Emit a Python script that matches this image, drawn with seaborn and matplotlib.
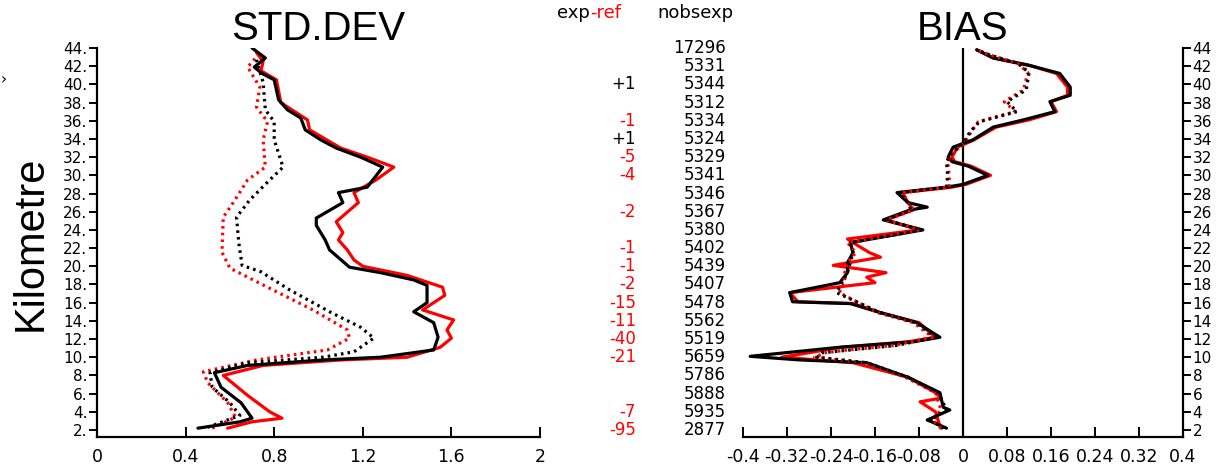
import matplotlib
matplotlib.use("Agg")
import matplotlib.pyplot as plt
import matplotlib.transforms as mtransforms
import seaborn as sns
import numpy as np

# ---------------- data ----------------
# STD.DEV panel
std_exp_km  = [2.2, 2.9, 3.3, 5.0, 6.7, 8.3, 9.1, 9.7, 10.0, 10.8, 12.2, 13.8, 15.0, 16.0, 17.9, 18.5, 19.3, 19.9,
               21.8, 22.9, 24.5, 25.3, 27.0, 28.1, 28.7, 30.9, 32.0, 33.0, 33.9, 35.0, 36.3, 37.2, 38.3, 40.5,
               41.2, 41.9, 42.9, 44.0]
std_exp_val = [0.456, 0.645, 0.70, 0.65, 0.56, 0.53, 0.68, 1.02, 1.28, 1.52, 1.54, 1.52, 1.43, 1.49, 1.49, 1.43, 1.28, 1.14,
               1.05, 1.03, 0.99, 0.99, 1.11, 1.09, 1.22, 1.29, 1.19, 1.08, 1.01, 0.94, 0.92, 0.86, 0.82, 0.80,
               0.745, 0.71, 0.76, 0.70]
std_ref_km  = [2.2, 2.9, 3.3, 4.0, 5.8, 8.0, 9.1, 9.7, 10.0, 11.1, 12.1, 13.0, 14.1, 15.2, 16.8, 17.7, 19.0, 20.0,
               20.7, 21.8, 22.9, 23.7, 24.9, 27.0, 28.1, 29.5, 30.9, 32.0, 33.0, 34.0, 35.0, 36.1, 37.2, 38.0,
               40.5, 41.5, 42.5, 43.5]
std_ref_val = [0.59, 0.70, 0.835, 0.78, 0.68, 0.57, 0.75, 1.10, 1.40, 1.55, 1.60, 1.58, 1.61, 1.47, 1.57, 1.56, 1.40, 1.20,
               1.16, 1.13, 1.09, 1.11, 1.08, 1.18, 1.16, 1.26, 1.34, 1.22, 1.10, 1.03, 0.96, 0.95, 0.88, 0.83,
               0.81, 0.74, 0.75, 0.72]
std_exp2_km  = [2.3, 3.6, 5.0, 6.7, 8.3, 9.4, 10.0, 10.6, 12.1, 13.3, 15.0, 17.4, 19.4, 20.1, 22.6, 25.4, 27.3, 29.5,
                30.9, 33.9, 35.9, 37.2, 40.2, 42.7]
std_exp2_val = [0.50, 0.645, 0.60, 0.52, 0.51, 0.68, 1.02, 1.16, 1.25, 1.19, 1.05, 0.87, 0.74, 0.655, 0.64, 0.63, 0.69, 0.78,
                0.84, 0.80, 0.80, 0.76, 0.75, 0.72]
std_ref2_km  = [2.2, 3.4, 5.0, 7.2, 8.4, 9.7, 10.8, 12.1, 13.0, 15.2, 17.7, 19.8, 21.5, 22.1, 25.4, 27.0, 29.5, 30.9,
                33.9, 35.9, 37.5, 39.7, 41.9, 43.0]
std_ref2_val = [0.52, 0.625, 0.59, 0.50, 0.48, 0.72, 1.04, 1.14, 1.13, 0.975, 0.77, 0.60, 0.565, 0.565, 0.57, 0.615, 0.68, 0.76,
                0.75, 0.77, 0.72, 0.735, 0.68, 0.72]

# BIAS panel
bias_exp_km  = [2.2, 3.1, 4.2, 4.5, 6.1, 7.8, 9.4, 9.7, 10.1, 11.1, 11.7, 12.2, 13.8, 14.9, 15.9, 16.1, 17.1, 18.2,
                19.3, 20.4, 21.5, 22.6, 24.0, 25.1, 26.2, 26.5, 27.0, 28.1, 28.7, 29.0, 30.0, 31.0, 31.5, 32.0,
                33.1, 33.9, 35.3, 36.1, 37.0, 38.1, 38.8, 39.7, 41.2, 42.1, 42.9, 43.8]
bias_exp_val = [-0.03, -0.065, -0.024, -0.036, -0.042, -0.10, -0.175, -0.296, -0.387, -0.224, -0.09, -0.042, -0.084, -0.15,
                -0.205, -0.31, -0.315, -0.224, -0.21, -0.21, -0.20, -0.205, -0.073, -0.145, -0.096, -0.065, -0.10, -0.12,
                -0.03, 0.0, 0.045, 0.01, -0.02, -0.027, -0.018, 0.018, 0.055, 0.11, 0.167, 0.158, 0.195, 0.195, 0.176,
                0.12, 0.055, 0.025]
bias_ref_km  = [2.2, 3.0, 4.0, 5.1, 5.5, 6.1, 7.8, 9.4, 10.0, 10.5, 11.1, 11.7, 12.2, 13.8, 14.9, 15.9, 16.1, 17.1,
                18.2, 18.8, 19.3, 20.1, 21.0, 21.5, 22.6, 23.0, 24.0, 25.1, 26.2, 27.0, 28.1, 28.7, 29.0, 30.0,
                31.0, 31.5, 32.0, 33.1, 33.9, 35.3, 36.1, 37.0, 38.1, 38.8, 39.7, 41.2, 42.1, 42.9, 43.8]
bias_ref_val = [-0.04, -0.045, -0.05, -0.078, -0.04, -0.05, -0.10, -0.20, -0.33, -0.28, -0.22, -0.10, -0.05, -0.08,
                -0.15, -0.20, -0.30, -0.315, -0.16, -0.175, -0.14, -0.236, -0.15, -0.17, -0.20, -0.21, -0.08, -0.14,
                -0.09, -0.10, -0.11, -0.02, 0.005, 0.05, 0.015, -0.015, -0.02, -0.01, 0.02, 0.06, 0.12, 0.17, 0.16,
                0.19, 0.19, 0.17, 0.12, 0.055, 0.025]
bias_exp2_km  = [2.2, 3.1, 4.2, 6.1, 7.8, 9.4, 10.0, 10.5, 10.8, 11.3, 12.2, 13.8, 14.9, 16.0, 17.1, 18.2, 19.3, 20.4,
                 21.5, 22.6, 24.0, 25.1, 26.2, 27.0, 28.1, 28.7, 30.0, 31.5, 32.5, 33.5, 34.8, 35.9, 37.0, 38.1,
                 39.4, 41.3, 42.3, 43.2, 43.8]
bias_exp2_val = [-0.035, -0.06, -0.03, -0.045, -0.10, -0.175, -0.265, -0.255, -0.205, -0.12, -0.05, -0.085, -0.15,
                 -0.19, -0.23, -0.22, -0.21, -0.205, -0.20, -0.205, -0.075, -0.14, -0.095, -0.10, -0.115, -0.03,
                 -0.028, -0.03, -0.02, 0.0, 0.013, 0.03, 0.098, 0.08, 0.115, 0.12, 0.10, 0.05, 0.025]
bias_ref2_km  = [2.2, 3.1, 4.2, 6.1, 7.8, 9.4, 10.0, 10.5, 10.8, 11.3, 12.2, 13.8, 14.9, 16.0, 17.1, 18.2, 19.3, 20.4,
                 21.5, 22.6, 24.0, 25.1, 26.2, 27.0, 28.1, 28.7, 30.0, 31.5, 32.5, 33.5, 34.8, 35.9, 37.0, 38.1,
                 39.4, 41.3, 42.3, 43.2, 43.8]
bias_ref2_val = [-0.04, -0.055, -0.04, -0.05, -0.105, -0.18, -0.27, -0.25, -0.21, -0.125, -0.055, -0.09, -0.155,
                 -0.19, -0.225, -0.215, -0.215, -0.21, -0.195, -0.21, -0.08, -0.14, -0.09, -0.10, -0.11, -0.025,
                 -0.025, -0.028, -0.018, 0.002, 0.015, 0.028, 0.095, 0.075, 0.11, 0.118, 0.10, 0.05, 0.025]

# middle columns
levels   = [44, 42, 40, 38, 36, 34, 32, 30, 28, 26, 24, 22, 20, 18, 16, 14, 12, 10, 8, 6, 4, 2]
nobsexp  = ["17296", "5331", "5344", "5312", "5334", "5324", "5329", "5341", "5346", "5367", "5380",
            "5402", "5439", "5407", "5478", "5562", "5519", "5659", "5786", "5888", "5935", "2877"]
diff_km  = [40, 36, 34, 32, 30, 26, 22, 20, 18, 16, 14, 12, 10, 4, 2]
diff_txt = ["+1", "-1", "+1", "-5", "-4", "-2", "-1", "-1", "-2", "-15", "-11", "-40", "-21", "-7", "-95"]

std_xticks = [0, 0.4, 0.8, 1.2, 1.6, 2]
std_xlabels = ["0", "0.4", "0.8", "1.2", "1.6", "2"]
bias_xticks = [-0.4, -0.32, -0.24, -0.16, -0.08, 0, 0.08, 0.16, 0.24, 0.32, 0.4]
bias_xlabels = ["-0.4", "-0.32", "-0.24", "-0.16", "-0.08", "0", "0.08", "0.16", "0.24", "0.32", "0.4"]
yticks = list(range(2, 45, 2))

# ---------------- figure ----------------
sns.set_theme(style="white")
plt.rcParams["font.family"] = ["DejaVu Sans"]
plt.rcParams["text.color"] = "black"
W, H = 1224, 467
fig = plt.figure(figsize=(W / 100, H / 100), dpi=100)

def fx(px):
    return px / W

def fy(py):
    return 1 - py / H

ax1 = fig.add_axes([fx(97), fy(437), fx(540) - fx(97), fy(48) - fy(437)])
ax2 = fig.add_axes([fx(743), fy(437), fx(1183) - fx(743), fy(48) - fy(437)])

RED = "#ff0000"
LW = 2.3
DOT = (0, (0.8, 1.3))

def draw(ax, km, val, color, ls):
    sns.lineplot(x=val, y=km, sort=False, estimator=None, color=color, lw=LW,
                 linestyle=ls, ax=ax)

draw(ax1, std_ref2_km, std_ref2_val, RED, DOT)
draw(ax1, std_exp2_km, std_exp2_val, "black", DOT)
draw(ax1, std_ref_km, std_ref_val, RED, "-")
draw(ax1, std_exp_km, std_exp_val, "black", "-")

draw(ax2, bias_ref_km, bias_ref_val, RED, "-")
draw(ax2, bias_exp_km, bias_exp_val, "black", "-")
draw(ax2, bias_ref2_km, bias_ref2_val, RED, DOT)
draw(ax2, bias_exp2_km, bias_exp2_val, "black", DOT)
ax2.axvline(0, color="black", lw=1.6, zorder=1)

for ax in (ax1, ax2):
    ax.set_ylim(1.23, 44)
    ax.set_xlabel("")
    ax.set_ylabel("")
    ax.set_facecolor("white")
    for s in ax.spines.values():
        s.set_linewidth(1.6)
        s.set_color("black")
    ax.set_yticks(yticks)
    ax.tick_params(axis="x", direction="in", length=7, width=1.4, pad=8, labelsize=12.5,
                   color="black", labelcolor="black", bottom=True)
    ax.tick_params(axis="y", direction="out", length=6, width=1.4, pad=1, labelsize=11,
                   color="black", labelcolor="black")

ax1.set_xlim(0, 2)
ax1.set_xticks(std_xticks)
ax1.set_xticklabels(std_xlabels)
ax1.set_yticklabels([f"{v}." for v in yticks])
ax1.spines["top"].set_visible(False)
ax1.spines["right"].set_visible(False)
ax1.tick_params(axis="y", left=True, right=False)

ax2.set_xlim(-0.4, 0.4)
ax2.set_xticks(bias_xticks)
ax2.set_xticklabels(bias_xlabels)
ax2.spines["top"].set_visible(False)
ax2.spines["left"].set_visible(False)
ax2.yaxis.tick_right()
ax2.tick_params(axis="y", left=False, right=True, labelleft=False, labelright=True)
ax2.set_yticklabels([f"{v}" for v in yticks])

# titles
fig.text(fx(318), fy(40), "STD.DEV", fontsize=29, family="Liberation Sans",
         ha="center", va="baseline", color="black")
fig.text(fx(963), fy(40), "BIAS", fontsize=29, family="Liberation Sans",
         ha="center", va="baseline", color="black")
fig.text(fx(31), fy(243), "Kilometre", fontsize=30, family="Liberation Sans",
         rotation=90, ha="center", va="center", color="black")
fig.text(fx(1), fy(80), "›", fontsize=11, ha="left", va="center", color="black")

# middle columns
tr = mtransforms.blended_transform_factory(fig.transFigure, ax1.transData)
for lev, s in zip(levels, nobsexp):
    fig.text(fx(726), lev, s, transform=tr, fontsize=12, ha="right", va="center", color="black")
for lev, s in zip(diff_km, diff_txt):
    col = "black" if s.startswith("+") else RED
    fig.text(fx(636), lev, s, transform=tr, fontsize=12, ha="right", va="center", color=col)

fig.text(fx(590), fy(18), "exp", fontsize=13, ha="right", va="baseline", color="black")
fig.text(fx(590), fy(18), "-ref", fontsize=13, ha="left", va="baseline", color=RED)
fig.text(fx(695), fy(18), "nobsexp", fontsize=13, ha="center", va="baseline", color="black")

fig.savefig("out.png", dpi=100, facecolor="white")
